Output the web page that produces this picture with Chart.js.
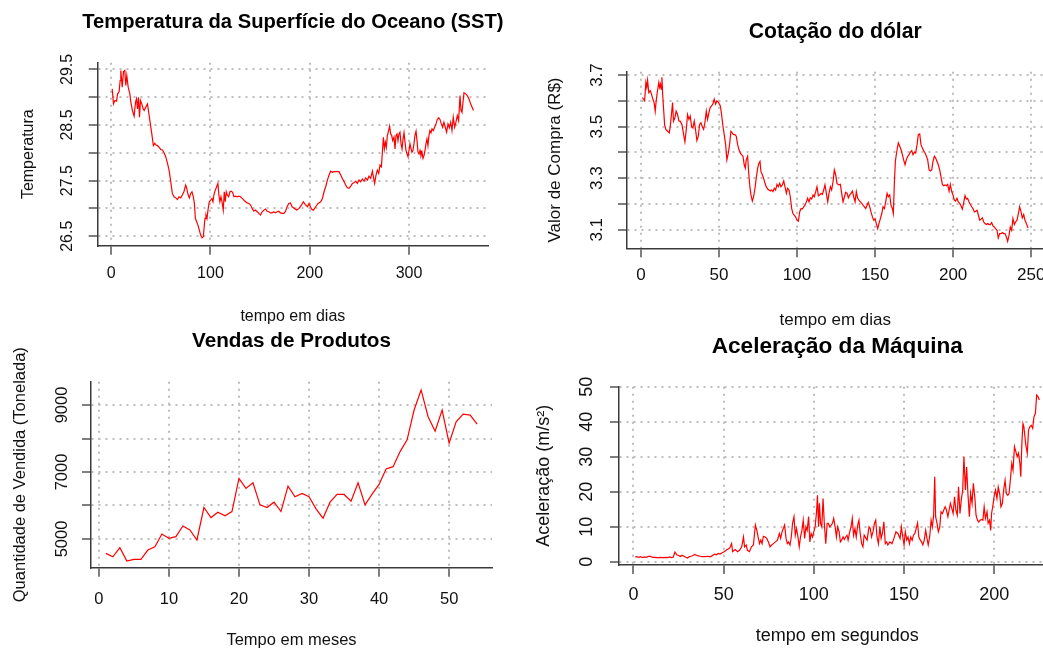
<!DOCTYPE html>
<html lang="pt-BR">
<head>
<meta charset="utf-8">
<title>Séries temporais</title>
<script src="https://cdn.jsdelivr.net/npm/chart.js@4.4.1/dist/chart.umd.min.js"></script>
<style>
  html, body { margin: 0; padding: 0; background: #fff; overflow: hidden; width: 1043px; height: 650px; }
  canvas { position: absolute; left: 0; top: 0; }
</style>
</head>
<body>
<canvas id="sst" width="1080" height="650"></canvas>
<canvas id="dolar" width="1080" height="650"></canvas>
<canvas id="vendas" width="1080" height="650"></canvas>
<canvas id="acel" width="1080" height="650"></canvas>
<script>
// Temperatura da superfície do oceano (dia, °C)
const sstDias = [
  1, 2.3, 3.7, 5.4, 6.4, 8, 9, 9.7, 11.1, 12.4,
  13.7, 14.7, 15.7, 17.1, 18.8, 19.8, 21.4, 23.1, 24.5, 25.5,
  26.5, 27.5, 28.5, 29.5, 30.8, 32.2, 33.2, 34.8, 36.5, 37.5,
  39.2, 40.9, 42.5, 43.9, 45.2, 46.6, 48.2, 49.9, 51.6, 53.3,
  54.9, 56.6, 58.3, 60, 61.6, 63.3, 65, 66.7, 68.3, 70,
  71.7, 73.4, 75, 76, 77.4, 78.7, 80.1, 81.4, 82.7, 83.8,
  84.8, 86.1, 87.4, 88.8, 90.1, 91.5, 92.8, 93.5, 94.5, 95.5,
  96.5, 97.5, 98.8, 100.2, 101.5, 102.5, 103.5, 104.9, 106.2, 107.5,
  108.5, 109.5, 110.6, 111.6, 112.9, 113.9, 114.9, 115.9, 116.9, 118.3,
  119.6, 120.9, 122.3, 123.6, 125.3, 127, 128.6, 130.3, 132, 133.7,
  135.3, 137, 138.7, 140.4, 142, 143.7, 145.4, 147.1, 148.7, 150.4,
  152.1, 153.8, 155.4, 157.1, 158.8, 160.5, 162.1, 163.8, 165.5, 167.2,
  168.8, 170.5, 172.2, 173.9, 175.5, 177.2, 178.9, 180.6, 182.2,
  186.9, 189.3, 191.6, 193.6, 195.6, 197.7, 199.3, 201.7, 203.7, 206,
  208.4, 211.1, 212.8, 214.4, 216.1, 217.8, 219.5, 221.1, 222.8, 224.5,
  226.2, 227.9, 229.5, 231.2, 232.9, 234.6, 236.2, 237.9, 239.6, 241.3,
  243, 244.6, 246.3, 248, 249.7, 251.3, 253, 254.7, 256.4, 258.1,
  259.7, 261.4, 263.1, 264.1, 265.4, 266.8, 268.1, 269.5, 270.8, 272.2,
  273.2, 274.2, 275.2, 276.2, 277.2, 278.2, 279.5, 280.5, 281.5, 282.6,
  283.6, 284.9, 285.9, 286.9, 287.9, 288.9, 289.9, 290.9, 292, 293,
  294, 295, 296, 297, 298, 299, 300, 301, 302, 303,
  304, 305, 306, 307.1, 308.1, 309.1, 310.1, 311.1, 312.1, 313.1,
  314.1, 315.1, 316.1, 317.1, 318.1, 319.1, 320.1, 321.1, 322.2, 323.2,
  324.5, 325.8, 327.2, 328.5, 329.9, 331.2, 332.6, 333.9, 335.2, 336.6,
  337.9, 339.3, 340.6, 342, 343.3, 344.6, 346, 347.3, 348.7, 350,
  351.4, 352.4, 353.4, 354.4, 355.4, 357.1, 358.7, 360.4, 362.1, 363.8,
  365
];
const sstTemp = [
  29.15, 28.88, 28.94, 28.93, 29.06, 29.10, 29.30, 29.48, 29.18, 29.46,
  29.48, 29.21, 29.39, 29.18, 29.06, 28.91, 28.76, 28.66, 28.91, 28.97,
  28.79, 29.00, 28.64, 28.94, 28.88, 28.79, 28.76, 28.82, 28.88, 28.76,
  28.55, 28.34, 28.13, 28.17, 28.14, 28.13, 28.10, 28.06, 28.05, 28.00,
  27.93, 27.82, 27.69, 27.48, 27.27, 27.21, 27.19, 27.16, 27.21, 27.19,
  27.24, 27.31, 27.42, 27.37, 27.25, 27.19, 27.27, 27.30, 27.21, 27.09,
  26.82, 26.76, 26.70, 26.61, 26.52, 26.47, 26.49, 26.64, 26.82, 26.88,
  26.82, 26.97, 27.12, 27.15, 27.18, 27.12, 27.25, 27.33, 27.39, 27.45,
  27.24, 27.12, 27.21, 27.12, 26.97, 27.30, 27.12, 27.30, 27.24, 27.21,
  27.30, 27.31, 27.29, 27.21, 27.22, 27.21, 27.22, 27.21, 27.18, 27.15,
  27.12, 27.10, 27.09, 27.06, 27.00, 26.95, 26.97, 26.94, 26.91, 26.88,
  26.94, 26.97, 26.99, 26.95, 26.94, 26.92, 26.92, 26.94, 26.92, 26.94,
  26.95, 26.92, 26.91, 26.91, 26.94, 27.03, 27.09, 27.10, 27.03,
  26.97, 27.00, 27.06, 27.12, 27.07, 27.03, 27.09, 26.99, 26.97, 27.03,
  27.09, 27.12, 27.18, 27.30, 27.39, 27.51, 27.60, 27.67, 27.65, 27.66,
  27.66, 27.66, 27.66, 27.60, 27.54, 27.48, 27.42, 27.37, 27.36, 27.40,
  27.45, 27.46, 27.49, 27.45, 27.51, 27.48, 27.53, 27.49, 27.55, 27.51,
  27.58, 27.54, 27.67, 27.57, 27.45, 27.60, 27.69, 27.63, 27.78, 27.75,
  28.01, 28.28, 28.07, 28.19, 28.10, 28.31, 28.40, 28.48, 28.34, 28.31,
  28.22, 28.28, 28.07, 28.31, 28.34, 28.22, 28.34, 28.37, 28.16, 28.07,
  28.25, 28.36, 28.19, 28.04, 27.98, 27.93, 28.04, 28.16, 28.08, 28.01,
  28.04, 28.16, 28.31, 28.39, 28.22, 28.01, 27.98, 28.04, 27.95, 28.01,
  27.90, 27.95, 28.04, 28.16, 28.25, 28.13, 28.31, 28.40, 28.36, 28.43,
  28.40, 28.46, 28.52, 28.60, 28.63, 28.60, 28.52, 28.46, 28.55, 28.46,
  28.37, 28.52, 28.45, 28.55, 28.40, 28.64, 28.46, 28.55, 28.67, 28.58,
  29.03, 28.76, 28.73, 28.91, 29.08, 29.06, 29.03, 28.97, 28.88, 28.81,
  28.76
];
const sstTicksX = [0, 100, 200, 300];
const sstTicksY = [26.5, 27, 27.5, 28, 28.5, 29, 29.5];
const sstRotulosY = ['26.5', '27.5', '28.5', '29.5'];

// Cotação do dólar (dia, R$)
const dolarDias = [
  1, 1.7, 2.4, 3.2, 3.8, 4.3, 5.1, 6, 6.8, 7.7,
  8.5, 9.2, 9.8, 10.7, 11.5, 12, 12.6, 13, 13.5, 13.9,
  14.5, 15.2, 16, 17.1, 18.2, 18.8, 19.7, 20.3, 20.9, 21.8,
  22.6, 23.5, 24.4, 25.2, 26.3, 27.4, 28.2, 29.1, 29.9, 30.8,
  31.6, 32.5, 33.3, 34.2, 35, 35.9, 36.8, 37.6, 38.5, 39.3,
  40.2, 41, 41.9, 42.7, 43.6, 44.4, 45.3, 46.2, 47, 47.9,
  48.7, 49.8, 50.9, 51.7, 52.6, 53.4, 54.3, 55.1, 56, 56.8,
  57.7, 58.5, 59.4, 60.3, 61.1, 62, 62.8, 63.7, 64.5, 65.4,
  66.2, 66.9, 67.5, 68.4, 69, 69.7, 70.5, 71.4, 72.2, 73.1,
  73.9, 74.8, 75.6, 76.3, 76.9, 77.8, 78.6, 79.5, 80.3, 81.2,
  82.1, 82.9, 83.8, 84.6, 85.5, 86.3, 87.2, 88, 88.9, 89.7,
  90.6, 91.5, 92.3, 93.2, 94, 94.9, 95.7, 96.6, 97.4, 98.3,
  99.1, 100, 100.9, 101.7, 102.6, 103.4, 104.3, 105.1, 106, 106.8,
  107.7, 108.5, 109.4, 110.3, 111.1, 112, 112.8, 113.7, 114.5, 115.4,
  116.2, 117.1, 117.9, 118.8, 119.7, 120.5, 121.4, 122.2, 123.1, 123.9,
  124.8, 125.6, 126.7, 127.8,
  128.6, 129.5, 130.4, 131.2, 132.1, 132.9, 133.8, 134.6, 135.5, 136.3,
  137.2, 138, 138.9, 139.7, 140.6, 141.5, 142.3, 143.2, 144, 144.9,
  145.7, 146.6, 147.4, 148.3, 149.1, 150, 150.8, 151.7, 152.5, 153.4,
  154.3, 155.1, 156, 156.8, 157.7, 158.5, 159.4, 160.2, 161.1, 161.7,
  162.4, 163, 163.6, 164.3, 164.9, 165.8, 166.6, 167.5, 168.3, 169.2,
  170, 170.9, 171.8, 172.6, 173.5, 174.3, 175.2, 176, 176.9, 177.7,
  178.6, 179.4, 180.3, 181.1, 182, 182.9, 183.7, 184.6, 185.4, 186.3,
  187.1, 188, 188.8, 189.7, 190.5, 191.4, 192.2, 193.1, 193.9, 194.8,
  195.7, 196.5, 197.4, 198.2, 199.1, 199.9, 200.8, 201.6, 202.5, 203.3,
  204.2, 205, 205.9, 206.8, 207.6, 208.5, 209.3, 210.2, 211, 211.9,
  212.7, 213.6, 214.4, 215.3, 216.1, 217, 217.9, 218.7, 219.6, 220.4,
  221.3, 222.1, 223, 223.8, 224.7, 225.5, 226.4, 227.2, 228.1, 228.9,
  229.8, 230.7, 231.5, 232.4, 233.2, 234.1, 234.9, 235.8, 236.6, 237.5,
  238.3, 239.2, 240, 240.9, 241.8, 242.6, 243.5, 244.3, 245.2, 246,
  246.9, 248
];
const dolarValor = [
  3.613, 3.606, 3.600, 3.671, 3.652, 3.680, 3.632, 3.639, 3.626, 3.606,
  3.593, 3.560, 3.600, 3.641, 3.671, 3.652, 3.665, 3.645, 3.691, 3.632,
  3.574, 3.508, 3.489, 3.482, 3.476, 3.500, 3.554, 3.593, 3.521, 3.534,
  3.560, 3.547, 3.521, 3.521, 3.508, 3.469, 3.441, 3.489, 3.547, 3.528,
  3.541, 3.500, 3.495, 3.521, 3.489, 3.446, 3.463, 3.508, 3.515, 3.500,
  3.489, 3.515, 3.560, 3.528, 3.554, 3.574, 3.580, 3.589, 3.606, 3.587,
  3.600, 3.593, 3.580, 3.547, 3.500, 3.469, 3.430, 3.371, 3.397, 3.430,
  3.482, 3.476, 3.469, 3.469, 3.463, 3.430, 3.411, 3.397, 3.391, 3.385,
  3.352, 3.339, 3.371, 3.385, 3.326, 3.274, 3.235, 3.211, 3.228, 3.261,
  3.300, 3.339, 3.358, 3.365, 3.326, 3.313, 3.300, 3.280, 3.267, 3.258,
  3.254, 3.250, 3.254, 3.248, 3.261, 3.254, 3.276, 3.267, 3.280, 3.267,
  3.274, 3.289, 3.267, 3.241, 3.261, 3.254, 3.228, 3.182, 3.163, 3.156,
  3.150, 3.137, 3.133, 3.169, 3.182, 3.180, 3.189, 3.195, 3.208, 3.222,
  3.208, 3.224, 3.219, 3.235, 3.228, 3.248, 3.267, 3.232, 3.235, 3.241,
  3.237, 3.254, 3.274, 3.241, 3.208, 3.241, 3.267, 3.254, 3.287, 3.332,
  3.313, 3.280, 3.274, 3.276,
  3.241, 3.208, 3.228, 3.245, 3.241, 3.224, 3.235, 3.241, 3.250, 3.228,
  3.208, 3.248, 3.222, 3.215, 3.208, 3.202, 3.195, 3.189, 3.182, 3.195,
  3.206, 3.189, 3.169, 3.150, 3.137, 3.143, 3.124, 3.104, 3.124, 3.143,
  3.163, 3.189, 3.182, 3.208, 3.241, 3.228, 3.235, 3.195, 3.182, 3.163,
  3.287, 3.365, 3.391, 3.417, 3.437, 3.424, 3.411, 3.391, 3.371, 3.352,
  3.371, 3.385, 3.391, 3.401, 3.407, 3.391, 3.401, 3.398, 3.430, 3.469,
  3.472, 3.430, 3.417, 3.407, 3.398, 3.385, 3.371, 3.332, 3.328, 3.332,
  3.365, 3.385, 3.378, 3.365, 3.352, 3.332, 3.306, 3.276, 3.271, 3.274,
  3.271, 3.276, 3.250, 3.276, 3.248, 3.235, 3.215, 3.211, 3.222, 3.208,
  3.202, 3.193, 3.180, 3.206, 3.232, 3.219, 3.222, 3.208, 3.198, 3.189,
  3.182, 3.169, 3.172, 3.176, 3.159, 3.137, 3.141, 3.146, 3.130, 3.124,
  3.120, 3.124, 3.120, 3.120, 3.128, 3.115, 3.111, 3.104, 3.098, 3.068,
  3.085, 3.085, 3.089, 3.085, 3.085, 3.072, 3.055, 3.078, 3.111, 3.098,
  3.143, 3.120, 3.130, 3.137, 3.163, 3.189, 3.169, 3.146, 3.159, 3.137,
  3.124, 3.107
];
const dolarTicksX = [0, 50, 100, 150, 200, 250];
const dolarTicksY = [3.1, 3.2, 3.3, 3.4, 3.5, 3.6, 3.7];
const dolarRotulosY = ['3.1', '3.3', '3.5', '3.7'];

// Vendas de produtos (mês, toneladas)
const vendasMeses = [
  1, 2, 3, 4, 5, 6, 7, 8, 9, 10,
  11, 12, 13, 14, 15, 16, 17, 18, 19, 20,
  21, 22, 23, 24, 25, 26, 27, 28, 29, 30,
  31, 32, 33, 34, 35, 36, 37, 38, 39, 40,
  41, 42, 43, 44, 45, 46, 47, 48, 49, 50,
  51, 52, 53, 54
];
const vendasQtd = [
  4570, 4470, 4740, 4340, 4390, 4390, 4670, 4770, 5150, 5020,
  5070, 5390, 5270, 4970, 5940, 5640, 5800, 5690, 5820, 6810,
  6510, 6680, 6020, 5940, 6100, 5820, 6580, 6260, 6360, 6260,
  5900, 5620, 6100, 6330, 6330, 6130, 6680, 6020, 6340, 6630,
  7090, 7160, 7610, 7960, 8850, 9450, 8650, 8220, 8850, 7860,
  8500, 8730, 8700, 8430
];
const vendasTicksX = [0, 10, 20, 30, 40, 50];
const vendasTicksY = [5000, 6000, 7000, 8000, 9000];
const vendasRotulosY = ['5000', '7000', '9000'];

// Aceleração da máquina (segundo, m/s²)
const acelTempo = [
  1, 2, 3, 4, 5, 6, 7, 8, 9, 10,
  11, 12, 13, 14, 15, 16, 17, 18, 19, 20,
  21, 22, 23, 24, 25, 26, 27, 28, 29, 30,
  31, 32, 33, 34, 35, 36, 37, 38, 39, 40,
  41, 42, 43, 44, 45, 46, 47, 48, 49, 50,
  52, 53, 53.7, 54.4, 55, 56.4, 57.7, 58.8, 60, 61,
  61.6, 62.5, 63.2, 64.3, 65.4, 66.5, 67.6, 68.4, 69.1, 69.9,
  70.6, 71.3, 72, 73, 73.9, 74.8, 75.7, 76.6, 77.6, 78.7,
  79.8, 80.9, 81.6, 82.4, 83.1, 83.8, 84.6, 85.3, 86, 86.8,
  87.5, 88.2, 89, 89.7, 90.4, 91.2, 91.9, 92.6, 93.4, 94.1,
  94.9, 95.6, 96.3, 97.1, 97.8, 98.5, 99.3, 100, 100.7, 101.5,
  102, 102.6, 103.1, 103.7, 104.4, 105.1, 105.8, 106.6, 107.4, 108,
  108.8, 109.6, 110.3, 111, 111.8, 112.5, 113.2, 114, 114.7, 115.4,
  116.2, 116.9, 117.6, 118.4, 119, 119.9, 120.6, 121.3, 122, 122.8,
  123.5, 124.3, 125, 125.7, 126.5, 127.2, 127.9,
  129.5, 130.6, 131.3, 132, 132.8, 133.6, 134.3, 135, 135.8, 136.6,
  137.3, 138, 138.8, 139.6, 140.3, 141, 142.2, 143.3, 144.4, 145.5,
  146.6, 147.8, 148.5, 149.3, 150, 150.7, 151.5, 152.2, 153, 153.7,
  154.5, 155.2, 156, 156.7, 157.5, 158.2, 159, 159.7, 160.4, 161.2,
  162, 162.7, 163.4, 164.2, 165, 165.7, 166.4, 167, 167.5, 168.3,
  169, 169.8, 170.5, 171.3, 172, 172.8, 173.5, 174.3, 175, 175.7,
  176.5, 177.2, 178, 178.7, 179.5, 180.2, 181, 181.7, 182.5, 183.2,
  184, 184.7, 185.4, 186.2, 186.9, 187.7, 188.4, 189.2, 189.9, 190.7,
  191.4, 192.2, 193, 193.7, 194.4, 195.1, 196, 196.6, 197.4, 198,
  198.5, 199.3, 200, 200.7, 201.5, 202.2, 203, 203.7, 204.5, 205.2,
  206, 206.7, 207.5, 208.2, 209, 209.7, 210.4, 211.2, 212, 212.7,
  213.4, 214.2, 214.7, 215.3, 215.9, 216.4, 217, 217.5, 218.3, 219,
  219.8, 220.5, 221.3, 222, 222.8, 223.5, 224.3, 225
];
const acelValor = [
  1.5, 1.4, 1.3, 1.5, 1.2, 1.4, 1.3, 1.5, 1.6, 1.4,
  1.3, 1.3, 1.2, 1.2, 1.3, 1.2, 1.2, 1.3, 1.2, 1.4,
  1.2, 1.3, 2.8, 2.0, 1.8, 1.5, 1.9, 1.6, 1.3, 1.1,
  1.5, 1.6, 1.8, 2.1, 1.9, 1.7, 1.6, 1.5, 1.5, 1.5,
  1.6, 1.5, 1.5, 1.9, 2.2, 2.0, 2.4, 2.2, 2.5, 2.8,
  3.5, 3.8, 4.3, 5.2, 2.9, 3.5, 2.9, 3.3, 4.3, 7.1,
  4.3, 4.8, 3.3, 2.9, 4.3, 4.8, 10.5, 9.0, 7.1, 5.2,
  6.2, 5.2, 7.3, 7.1, 6.7, 5.7, 4.3, 4.8, 5.2, 5.7,
  6.2, 8.1, 6.7, 8.6, 9.5, 10.5, 6.7, 5.2, 5.7, 4.8,
  7.1, 11.0, 12.9, 7.6, 9.5, 7.1, 4.3, 7.1, 9.0, 11.9,
  6.7, 10.0, 9.0, 12.9, 5.7, 8.1, 7.1, 8.6, 10.0, 14.3,
  19.0, 10.0, 16.7, 11.0, 10.0, 18.1, 11.0, 5.2, 11.0, 11.0,
  10.0, 10.5, 11.0, 12.4, 10.0, 7.1, 10.0, 8.6, 5.7, 6.2,
  7.1, 6.4, 7.1, 7.6, 6.2, 8.6, 10.0, 12.4, 7.6, 9.5,
  7.1, 10.5, 11.9, 8.1, 5.2, 4.3, 7.6,
  6.2, 10.0, 9.5, 7.1, 8.6, 11.0, 11.9, 7.1, 5.2, 10.0,
  6.7, 8.1, 11.4, 5.2, 5.7, 4.8, 5.7, 5.2, 6.7, 8.6,
  8.1, 6.7, 10.0, 7.1, 4.8, 8.6, 6.2, 7.1, 5.2, 7.1,
  6.2, 7.6, 8.1, 9.5, 11.1, 7.1, 6.2, 5.7, 4.8, 6.2,
  9.0, 6.7, 4.8, 7.1, 11.9, 10.0, 13.3, 24.3, 12.9, 11.0,
  8.6, 10.0, 14.3, 13.8, 14.8, 15.7, 14.8, 12.9, 14.8, 16.7,
  15.2, 13.8, 18.6, 14.8, 13.3, 21.4, 13.8, 17.6, 20.5, 30.0,
  20.5, 27.1, 19.5, 12.9, 19.5, 16.7, 22.4, 18.6, 13.3, 11.9,
  11.4, 11.9, 12.1, 11.9, 15.7, 12.4, 14.3, 11.0, 11.9, 9.0,
  13.8, 16.2, 19.0, 20.5, 18.1, 21.4, 19.5, 15.7, 16.7, 20.5,
  23.3, 19.5, 19.0, 19.5, 23.8, 28.1, 26.2, 32.9, 31.4, 30.0,
  31.0, 28.1, 24.3, 33.8, 39.5, 38.6, 35.7, 33.3, 31.0, 37.6,
  38.6, 39.0, 38.1, 41.4, 42.4, 47.6, 47.1, 46.2
];
const acelTicksX = [0, 50, 100, 150, 200];
const acelTicksY = [0, 10, 20, 30, 40, 50];
const acelRotulosY = ['0', '10', '20', '30', '40', '50'];

const FONTE = '"Liberation Sans", Arial, sans-serif';

// textos no estilo do R: rótulos dos eixos girados, títulos
const rotulos = {
  id: 'rotulos',
  afterDraw(chart, args, o) {
    const { ctx, chartArea: a, scales } = chart;
    const meio = (a.left + a.right) / 2;
    ctx.save();
    ctx.fillStyle = '#111';
    ctx.textAlign = 'center';
    ctx.textBaseline = 'middle';
    ctx.font = o.fonte + 'px ' + FONTE;
    o.ticksX.forEach(v => ctx.fillText(String(v), scales.x.getPixelForValue(v), a.bottom + o.dTick));
    o.rotulosY.forEach(r => {
      ctx.save();
      ctx.translate(a.left - o.dTickY, scales.y.getPixelForValue(parseFloat(r)));
      ctx.rotate(-Math.PI / 2);
      ctx.fillText(r, 0, 0);
      ctx.restore();
    });
    ctx.fillText(o.tituloX, meio, a.bottom + o.dTituloX);
    ctx.save();
    ctx.translate(a.left - o.dTituloY, (a.top + a.bottom) / 2);
    ctx.rotate(-Math.PI / 2);
    ctx.fillText(o.tituloY, 0, 0);
    ctx.restore();
    ctx.fillStyle = '#000';
    ctx.font = 'bold ' + o.fonteTitulo + 'px ' + FONTE;
    ctx.fillText(o.titulo, meio, a.top - o.dTitulo);
    ctx.restore();
  }
};

function criarPainel(id, p) {
  const largura = 1080, altura = 650, eixo = 10;
  const [l, t, r, b] = p.area;
  const grade = { color: '#bdbdbd', lineWidth: 2, tickLength: 9, tickColor: '#3a3a3a', tickWidth: 1.3 };
  const borda = { display: true, color: '#3a3a3a', width: 1.5, dash: [2, 5] };
  new Chart(document.getElementById(id), {
    type: 'line',
    data: {
      datasets: [{
        data: p.x.map((v, i) => ({ x: v, y: p.y[i] })),
        borderColor: '#ff0000',
        borderWidth: 1.2,
        pointRadius: 0,
        tension: 0,
        fill: false
      }]
    },
    options: {
      responsive: false,
      animation: false,
      events: [],
      layout: { padding: { left: l - eixo, top: t, right: largura - r, bottom: altura - b - eixo } },
      plugins: {
        legend: { display: false },
        tooltip: { enabled: false },
        rotulos: p.textos
      },
      scales: {
        x: {
          type: 'linear', min: p.xMin, max: p.xMax,
          afterBuildTicks: s => { s.ticks = p.ticksX.map(v => ({ value: v })); },
          afterFit: s => { s.height = eixo; },
          ticks: { display: false },
          grid: grade, border: borda
        },
        y: {
          type: 'linear', min: p.yMin, max: p.yMax,
          afterBuildTicks: s => { s.ticks = p.ticksY.map(v => ({ value: v })); },
          afterFit: s => { s.width = eixo; },
          ticks: { display: false },
          grid: grade, border: borda
        }
      }
    },
    plugins: [rotulos]
  });
}

criarPainel('sst', {
  x: sstDias, y: sstTemp, area: [97.7, 62.7, 488, 245.7],
  xMin: -13.6, xMax: 379.6, yMin: 26.33, yMax: 29.62,
  ticksX: sstTicksX, ticksY: sstTicksY,
  textos: {
    ticksX: sstTicksX, rotulosY: sstRotulosY, fonte: 16, fonteTitulo: 20.2,
    dTick: 28, dTickY: 30, dTituloX: 71, dTituloY: 69, dTitulo: 40,
    titulo: 'Temperatura da Superfície do Oceano (SST)', tituloX: 'tempo em dias', tituloY: 'Temperatura'
  }
});

criarPainel('dolar', {
  x: dolarDias, y: dolarValor, area: [627, 71.7, 1043.5, 248.3],
  xMin: -8.88, xMax: 257.88, yMin: 3.028, yMax: 3.713,
  ticksX: dolarTicksX, ticksY: dolarTicksY,
  textos: {
    ticksX: dolarTicksX, rotulosY: dolarRotulosY, fonte: 17, fonteTitulo: 21.2,
    dTick: 27, dTickY: 30, dTituloX: 72, dTituloY: 72, dTitulo: 40,
    titulo: 'Cotação do dólar', tituloX: 'tempo em dias', tituloY: 'Valor de Compra (R$)'
  }
});

criarPainel('vendas', {
  x: vendasMeses, y: vendasQtd, area: [91, 381.7, 492, 567.7],
  xMin: -1.12, xMax: 56.12, yMin: 4143, yMax: 9696,
  ticksX: vendasTicksX, ticksY: vendasTicksY,
  textos: {
    ticksX: vendasTicksX, rotulosY: vendasRotulosY, fonte: 16.5, fonteTitulo: 20.7,
    dTick: 32, dTickY: 29, dTituloX: 73, dTituloY: 71, dTitulo: 40.5,
    titulo: 'Vendas de Produtos', tituloX: 'Tempo em meses', tituloY: 'Quantidade de Vendida (Tonelada)'
  }
});

criarPainel('acel', {
  x: acelTempo, y: acelValor, area: [619, 386.7, 1055.6, 565],
  xMin: -8, xMax: 234, yMin: -0.9, yMax: 50,
  ticksX: acelTicksX, ticksY: acelTicksY,
  textos: {
    ticksX: acelTicksX, rotulosY: acelRotulosY, fonte: 18, fonteTitulo: 22.6,
    dTick: 30, dTickY: 31.5, dTituloX: 71, dTituloY: 75, dTitulo: 40,
    titulo: 'Aceleração da Máquina', tituloX: 'tempo em segundos', tituloY: 'Aceleração (m/s²)'
  }
});
</script>
</body>
</html>
